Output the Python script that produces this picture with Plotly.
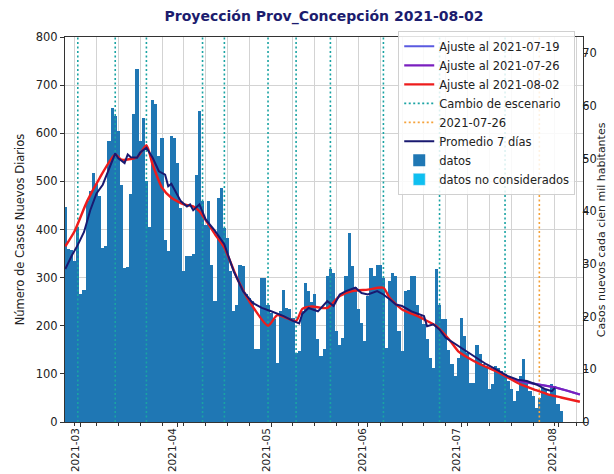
import pandas as pd
import plotly.graph_objects as go

# ---------------- data ----------------
start_date = "2021-02-24"
daily_cases = [
    446, 360, 358, 335, 405, 265, 275, 460, 480, 518,
    495, 470, 362, 365, 583, 653, 636, 604, 493, 320,
    322, 473, 639, 733, 583, 632, 500, 405, 670, 660,
    552, 590, 379, 355, 594, 590, 538, 445, 313, 345,
    345, 350, 514, 646, 459, 410, 459, 327, 251, 466,
    487, 403, 383, 313, 230, 244, 327, 324, 265, 258,
    251, 151, 151, 300, 300, 244, 227, 213, 123, 231,
    275, 237, 234, 217, 144, 147, 230, 289, 272, 250,
    265, 172, 137, 151, 303, 317, 310, 189, 161, 175,
    303, 393, 324, 280, 234, 206, 168, 262, 320, 303,
    327, 327, 300, 154, 293, 310, 303, 189, 147, 272,
    275, 303, 303, 244, 220, 203, 172, 133, 113, 317,
    244, 213, 213, 150, 120, 95, 134, 217, 178, 144,
    82, 82, 161, 141, 120, 116, 68, 78, 116, 113,
    106, 99, 85, 68, 43, 64, 95, 130, 85, 64,
    54, 30, 50, 71, 68, 57, 78, 75, 37, 23,
]
dates = pd.date_range(start_date, periods=len(daily_cases), freq="D")

avg7_dates = ["2021-02-24", "2021-02-26", "2021-02-28", "2021-03-02", "2021-03-04", "2021-03-06",
              "2021-03-08", "2021-03-10", "2021-03-12", "2021-03-13", "2021-03-15", "2021-03-16",
              "2021-03-17", "2021-03-19", "2021-03-20", "2021-03-22", "2021-03-24", "2021-03-26",
              "2021-03-28", "2021-03-29", "2021-03-30", "2021-04-02", "2021-04-04", "2021-04-05",
              "2021-04-06", "2021-04-08", "2021-04-10", "2021-04-13", "2021-04-16", "2021-04-19",
              "2021-04-22", "2021-04-25", "2021-04-28", "2021-05-01", "2021-05-05", "2021-05-08",
              "2021-05-10", "2021-05-11", "2021-05-13", "2021-05-16", "2021-05-19", "2021-05-21",
              "2021-05-23", "2021-05-25", "2021-05-28", "2021-05-30", "2021-06-01", "2021-06-04",
              "2021-06-06", "2021-06-08", "2021-06-10", "2021-06-12", "2021-06-15", "2021-06-19",
              "2021-06-20", "2021-06-22", "2021-06-24", "2021-06-26", "2021-06-30", "2021-07-03",
              "2021-07-06", "2021-07-09", "2021-07-13", "2021-07-16", "2021-07-19", "2021-07-22",
              "2021-07-25", "2021-07-28", "2021-07-30", "2021-07-31"]
avg7_values = [318, 345, 368, 395, 440, 475, 493, 525, 558, 548, 538, 556,
               550, 549, 560, 570, 549, 521, 514, 490, 495, 459, 448, 452,
               440, 452, 421, 397, 369, 313, 272, 248, 237, 230, 220, 210,
               205, 225, 237, 230, 251, 241, 265, 272, 279, 268, 265, 272,
               265, 255, 244, 241, 230, 220, 199, 203, 192, 175, 158, 147,
               134, 120, 106, 95, 88, 85, 78, 68, 64, 71]

fit0802_dates = ["2021-02-24", "2021-02-27", "2021-03-03", "2021-03-07", "2021-03-12", "2021-03-14",
                 "2021-03-19", "2021-03-22", "2021-03-24", "2021-03-27", "2021-03-30", "2021-04-03",
                 "2021-04-06", "2021-04-08", "2021-04-13", "2021-04-16", "2021-04-20", "2021-04-24",
                 "2021-04-30", "2021-05-03", "2021-05-09", "2021-05-11", "2021-05-14", "2021-05-19",
                 "2021-05-23", "2021-05-27", "2021-06-01", "2021-06-06", "2021-06-08", "2021-06-12",
                 "2021-06-17", "2021-06-20", "2021-06-23", "2021-06-27", "2021-06-30", "2021-07-03",
                 "2021-07-07", "2021-07-12", "2021-07-16", "2021-07-20", "2021-07-25", "2021-07-29",
                 "2021-08-02", "2021-08-08"]
fit0802_values = [365, 397, 459, 507, 556, 545, 550, 575, 535, 487, 466, 452,
                  448, 438, 390, 362, 300, 251, 200, 222, 210, 235, 240, 237,
                  262, 272, 275, 279, 258, 234, 220, 210, 199, 172, 147, 134,
                  120, 106, 92, 78, 66, 57, 51, 42]

fit0726_dates = ["2021-07-15", "2021-07-19", "2021-07-23", "2021-07-27", "2021-07-31", "2021-08-04", "2021-08-08"]
fit0726_values = [95, 86, 81, 77, 72, 65, 57]

fit0719_dates = ["2021-07-15", "2021-07-19", "2021-07-23", "2021-07-27", "2021-07-31", "2021-08-04", "2021-08-08"]
fit0719_values = [95, 86, 81, 77, 72, 65, 57]

scenario_changes = ["2021-02-28", "2021-03-12", "2021-03-22", "2021-04-09", "2021-04-16",
                    "2021-04-30", "2021-05-09", "2021-05-20", "2021-06-06", "2021-06-24", "2021-07-15"]
report_date = "2021-07-26"

y_left_max = 800
y_right_max = 73.1

FONT = "DejaVu Sans"

# ---------------- figure ----------------
fig = go.Figure()

fig.add_trace(go.Bar(
    x=dates, y=daily_cases, name="datos", marker=dict(color="#1f77b4", line=dict(width=0)),
    legendrank=7, width=86400000,
))
fig.add_trace(go.Bar(
    x=[None], y=[None], name="datos no considerados", marker=dict(color="#0fbff0"),
    legendrank=8,
))

vx, vy = [], []
for d in scenario_changes:
    vx += [d, d, None]
    vy += [0, y_left_max, None]
fig.add_trace(go.Scatter(
    x=vx, y=vy, mode="lines", name="Cambio de escenario",
    line=dict(color="#1aa3a3", dash="2px,2.5px", width=1.6), legendrank=4,
))
fig.add_trace(go.Scatter(
    x=[report_date, report_date], y=[0, y_left_max], mode="lines", name="2021-07-26",
    line=dict(color="#f5a23a", dash="2px,2.5px", width=1.6), legendrank=5,
))

fig.add_trace(go.Scatter(
    x=fit0719_dates, y=fit0719_values, mode="lines", name="Ajuste al 2021-07-19",
    line=dict(color="#5a5ae0", width=2), legendrank=1,
))
fig.add_trace(go.Scatter(
    x=fit0726_dates, y=fit0726_values, mode="lines", name="Ajuste al 2021-07-26",
    line=dict(color="#7a1fbf", width=2.2), legendrank=2,
))
fig.add_trace(go.Scatter(
    x=fit0802_dates, y=fit0802_values, mode="lines", name="Ajuste al 2021-08-02",
    line=dict(color="#ee1c1c", width=2.4, shape="spline", smoothing=0.6), legendrank=3,
))
fig.add_trace(go.Scatter(
    x=avg7_dates, y=avg7_values, mode="lines", name="Promedio 7 días",
    line=dict(color="#191970", width=2), legendrank=6,
))
fig.add_trace(go.Scatter(x=[None], y=[None], yaxis="y2", showlegend=False, hoverinfo="skip"))

axis_line = "#333333"
grid = "#d3d3d3"
tick_font = dict(family=FONT, size=11.5, color="#222222")
xtick_font = dict(family=FONT, size=10.5, color="#222222")

fig.update_layout(
    width=614, height=474,
    margin=dict(l=57, r=39, t=29, b=60, autoexpand=False),
    paper_bgcolor="white", plot_bgcolor="white",
    bargap=0,
    font=dict(family=FONT, size=11.5, color="#222222"),
    title=dict(text="<b>Proyección Prov_Concepción 2021-08-02</b>", x=0.5, xref="paper", xanchor="center",
               y=0.982, yanchor="middle", font=dict(family=FONT, size=14, color="#1c1c6e")),
    showlegend=True,
    legend=dict(x=0.985, y=1.016, xanchor="right", yanchor="top",
                bgcolor="rgba(255,255,255,0.85)", bordercolor="#d0d0d0", borderwidth=1,
                font=dict(family=FONT, size=11.5, color="#222222"), itemwidth=30,
                tracegroupgap=0),
    xaxis=dict(
        type="date", range=["2021-02-23 21:30", "2021-08-09 00:00"],
        tick0="2021-03-01", dtick="M1", tickformat="%Y-%m", tickangle=-90,
        ticks="outside", ticklen=4, tickcolor=axis_line, tickfont=xtick_font,
        ticklabelstandoff=-3, ticklabelshift=-5,
        showgrid=False, showline=True, linecolor=axis_line, linewidth=1, mirror=True,
        minor=dict(tick0="2021-02-27", dtick=7 * 86400000, showgrid=True, gridcolor=grid,
                   gridwidth=1, ticks="outside", ticklen=2.5, tickcolor=axis_line),
        zeroline=False,
    ),
    yaxis=dict(
        range=[0, y_left_max], dtick=100, ticks="outside", ticklen=4, tickcolor=axis_line,
        tickfont=tick_font, showgrid=True, gridcolor=grid, gridwidth=1,
        showline=True, linecolor=axis_line, linewidth=1, zeroline=False,
        title=dict(text="Número de Casos Nuevos Diarios", font=dict(family=FONT, size=11.5), standoff=8),
    ),
    yaxis2=dict(
        range=[0, y_right_max], dtick=10, overlaying="y", side="right", anchor="x",
        ticks="outside", ticklen=4, tickcolor=axis_line, tickfont=tick_font,
        ticklabelstandoff=-8,
        showgrid=False, showline=True, linecolor=axis_line, linewidth=1, zeroline=False,
    ),
    annotations=[dict(
        text="Casos nuevos cada cien mil habitantes", xref="paper", yref="paper",
        x=1.036, y=0.5, xanchor="center", yanchor="middle", textangle=-90, showarrow=False,
        font=dict(family=FONT, size=11, color="#222222"),
    )],
)

fig.write_html("out.html")
